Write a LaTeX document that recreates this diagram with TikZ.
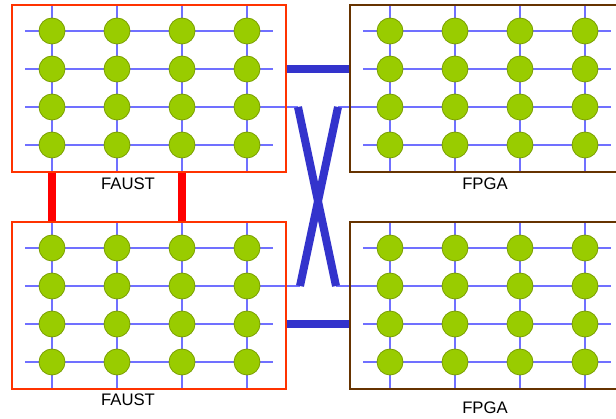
\documentclass[tikz,border=0pt]{standalone}
\usepackage{fontspec}
\setmainfont{Liberation Sans}
\usetikzlibrary{backgrounds}

\definecolor{pefill}{HTML}{99CC00}
\definecolor{pedge}{HTML}{7A9F00}
\definecolor{meshblue}{HTML}{7070FF}
\definecolor{linkblue}{HTML}{3333CC}
\definecolor{faustred}{HTML}{FF3300}
\definecolor{fpgabrown}{HTML}{663300}

\tikzset{
  pe/.style={circle,draw=pedge,fill=pefill,line width=.8pt,minimum size=26pt,inner sep=0pt},
  mesh/.style={meshblue,line width=1.6pt},
  faustbox/.style={draw=faustred,line width=1.5pt,minimum width=274pt,minimum height=167pt,inner sep=0pt},
  fpgabox/.style={faustbox,draw=fpgabrown},
  chipname/.style={font=\fontsize{16.7}{20}\selectfont},
  redlink/.style={red,line width=8pt},
  bluelink/.style={linkblue,line width=8pt},
}

\begin{document}
\begin{tikzpicture}[x=1pt,y=-1pt]
    \useasboundingbox (0,0) rectangle (616,419);
    \clip (0,0) rectangle (616,419);
    \node[faustbox] (tl) at (149,88.5) {};
    \node[fpgabox] (tr) at (487,88.5) {};
    \node[faustbox] (bl) at (149,305.5) {};
    \node[fpgabox] (br) at (487,305.5) {};
    \foreach \b/\dx/\dy in {tl/0/0,tr/338/0,bl/0/217,br/338/217}
    \foreach \i in {1,...,4}
    \foreach \j in {1,...,4}
    \node[pe] (\b-\i-\j) at ({52+65*(\j-1)+\dx},{31+38*(\i-1)+\dy}) {};
    \coordinate (xtl) at (298,107);
    \coordinate (xtr) at (338,107);
    \coordinate (xbl) at (300,286);
    \coordinate (xbr) at (336,286);
    \begin{scope}[on background layer]
    \fill[white] (0,0) rectangle (616,419);
    \foreach \b in {tl,tr,bl,br}
    \foreach \k in {1,...,4} {
      \draw[mesh] ([xshift=-27pt]\b-\k-1.center) -- ([xshift=26pt]\b-\k-4.center);
      \draw[mesh] (\b-1-\k.center |- \b.north) -- (\b-4-\k.center |- \b.south);
    }
    \draw[mesh] (tl-3-4.center) -- (xtl);
    \draw[mesh] (tr-3-1.center) -- (xtr);
    \draw[mesh] (bl-2-4.center) -- (xbl);
    \draw[mesh] (br-2-1.center) -- (xbr);
    \end{scope}
    \draw[redlink] (tl.south -| tl-4-1) -- (bl.north -| bl-1-1);
    \draw[redlink] (tl.south -| tl-4-3) -- (bl.north -| bl-1-3);
    \draw[bluelink] (tl.east |- tl-2-4) -- (tr.west |- tr-2-1);
    \draw[bluelink] (bl.east |- bl-3-4) -- (br.west |- br-3-1);
    \draw[bluelink] (xtl) -- (xbr);
    \draw[bluelink] (xtr) -- (xbl);
    \node[chipname] (tlname) at (128,184) {FAUST};
    \node[chipname] (trname) at (485,184) {FPGA};
    \node[chipname] (blname) at (128,400) {FAUST};
    \node[chipname] (brname) at (485,408) {FPGA};
  \end{tikzpicture}
\end{document}
